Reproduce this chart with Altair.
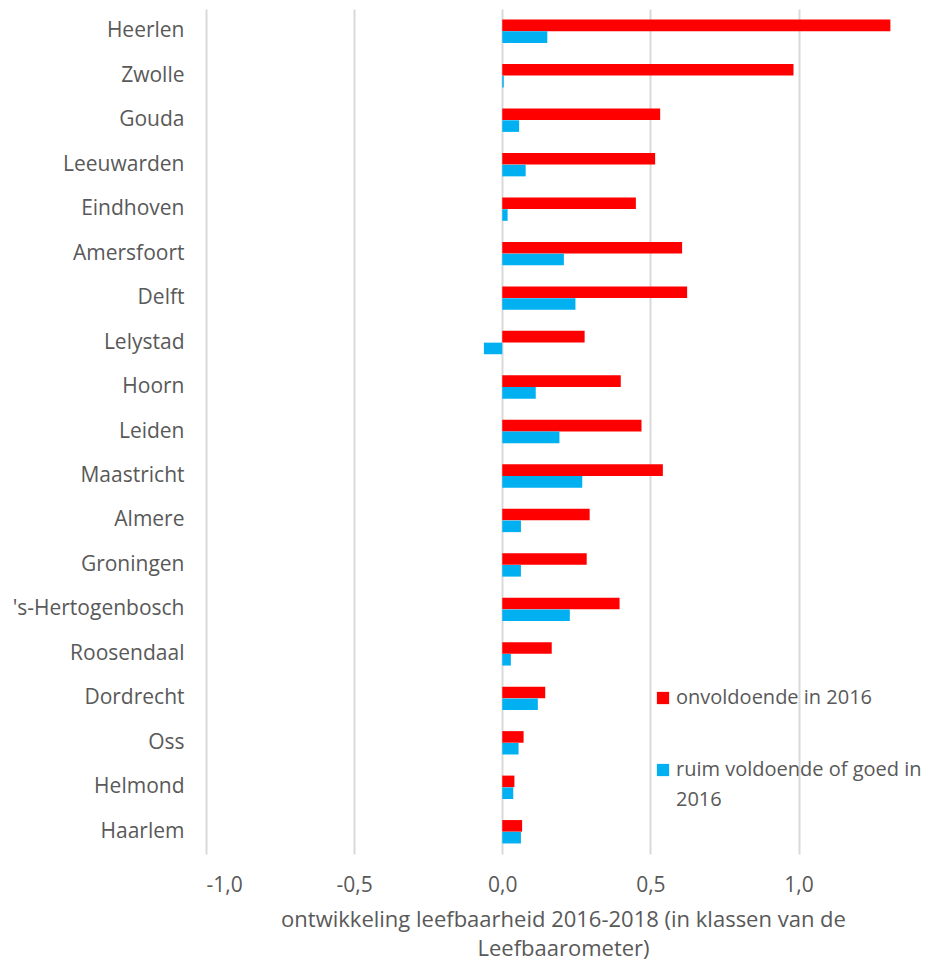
import altair as alt
import pandas as pd

cities = ["Heerlen", "Zwolle", "Gouda", "Leeuwarden", "Eindhoven", "Amersfoort", "Delft",
          "Lelystad", "Hoorn", "Leiden", "Maastricht", "Almere", "Groningen",
          "'s-Hertogenbosch", "Roosendaal", "Dordrecht", "Oss", "Helmond", "Haarlem"]
onvoldoende = [1.31, 0.983, 0.533, 0.516, 0.451, 0.607, 0.624, 0.278, 0.400, 0.470, 0.542,
               0.295, 0.285, 0.396, 0.167, 0.145, 0.072, 0.041, 0.067]
ruim = [0.152, 0.005, 0.057, 0.079, 0.018, 0.208, 0.247, -0.062, 0.113, 0.193, 0.270,
        0.063, 0.063, 0.228, 0.029, 0.120, 0.055, 0.037, 0.063]
series = ["onvoldoende in 2016", "ruim voldoende of goed in 2016"]
colors = ["#ff0000", "#00b0f0"]
x_ticks = [-1.0, -0.5, 0.0, 0.5, 1.0]
x_title = ["ontwikkeling leefbaarheid  2016-2018 (in klassen van de", "Leefbaarometer)"]

rows = []
for i, c in enumerate(cities):
    rows.append({"stad": c, "reeks": series[0], "waarde": onvoldoende[i]})
    rows.append({"stad": c, "reeks": series[1], "waarde": ruim[i]})
df = pd.DataFrame(rows)

FONT = "Open Sans"
GRAY = "#595959"

chart = alt.Chart(df).mark_bar(size=11.6).encode(
    y=alt.Y("stad:N", sort=cities, title=None,
            scale=alt.Scale(paddingInner=0.47, paddingOuter=0.235),
            axis=alt.Axis(labelFontSize=21, labelColor=GRAY, labelFont=FONT,
                          labelPadding=22, ticks=False, domain=False, grid=False)),
    yOffset=alt.YOffset("reeks:N", sort=series,
                        scale=alt.Scale(paddingInner=0, paddingOuter=0)),
    x=alt.X("waarde:Q", title=x_title,
            scale=alt.Scale(domain=[-1.0, 1.41], nice=False, zero=False),
            axis=alt.Axis(values=x_ticks,
                          labelExpr="replace(replace(format(datum.value, '.1f'), '.', ','), '\u2212', '-')",
                          labelFontSize=21, labelColor=GRAY, labelFont=FONT, labelPadding=20,
                          ticks=False, domain=False, grid=True, gridColor="#d9d9d9",
                          gridWidth=2, titleFontSize=22, titleColor=GRAY, titleFont=FONT,
                          titleFontWeight="normal", titlePadding=14, titleLineHeight=29)),
    color=alt.Color("reeks:N", sort=series,
                    scale=alt.Scale(domain=series, range=colors),
                    legend=alt.Legend(title=None, orient="none", legendX=447, legendY=679,
                                      symbolType="square", symbolSize=150, symbolStrokeWidth=0,
                                      labelFontSize=20, labelColor=GRAY, labelFont=FONT,
                                      labelLimit=400, labelOffset=3, rowPadding=52,
                                      labelExpr="datum.label == 'ruim voldoende of goed in 2016' ? ['ruim voldoende of goed in', '2016'] : datum.label")),
).properties(
    width=714, height=845,
    background="white",
    autosize=alt.AutoSizeParams(type="none"),
    padding={"left": 198, "top": 1, "right": 6, "bottom": 106},
).configure(
    style={"guide-label": {"lineHeight": 30}}
).configure_view(stroke=None)

chart.save("out.html", embed_options={"renderer": "svg", "actions": False})
